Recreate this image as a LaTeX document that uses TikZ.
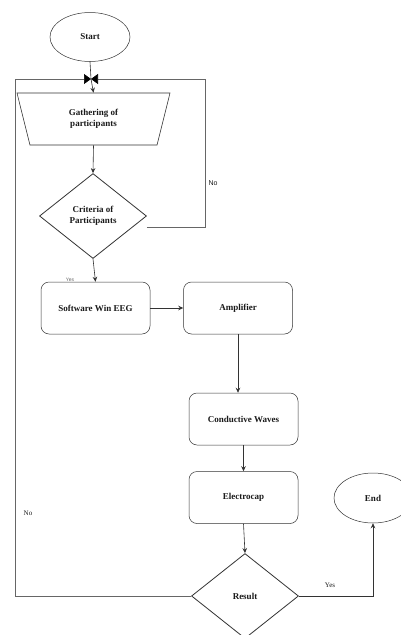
\documentclass[tikz,border=0pt]{standalone}
\usepackage{fontspec}
\setmainfont{Liberation Serif}
\newfontfamily\labelsans{Liberation Sans}
\usepackage{tikz}
\usetikzlibrary{shapes.geometric, arrows.meta, calc}
\definecolor{linegray}{HTML}{333333}
\definecolor{loopgray}{HTML}{666666}
\definecolor{textdark}{HTML}{1A1A1A}

\begin{document}
\begin{tikzpicture}[x=1pt, y=-1pt,
    terminal/.style={ellipse, draw=linegray, line width=0.5pt, minimum width=80pt, minimum height=49pt, inner sep=0pt, font=\small\bfseries, text=textdark},
    gather/.style={trapezium, trapezium left angle=56, trapezium right angle=56, trapezium stretches body, shape border rotate=180, draw=linegray, line width=0.6pt, minimum width=153pt, minimum height=52pt, inner sep=0pt, align=center, font=\small\bfseries, text=textdark},
    decision/.style={diamond, draw=linegray, line width=0.8pt, minimum width=107pt, minimum height=85pt, inner sep=0pt, align=center, font=\small\bfseries, text=textdark},
    process/.style={rectangle, rounded corners=8pt, draw=linegray, line width=0.5pt, minimum width=109pt, minimum height=52pt, align=center, font=\small\bfseries, text=textdark},
    flow/.style={draw=linegray, line width=0.6pt, -{Stealth[length=5pt, width=4.5pt]}},
    loopline/.style={draw=loopgray, line width=0.6pt},
    bigtip/.style={draw=loopgray, line width=0.6pt, -{Triangle[length=7pt, width=10pt, color=black]}},
    sanslabel/.style={font=\labelsans\scriptsize, text=textdark},
]
    \fill[white] (0,0) rectangle (401,635);
    \useasboundingbox (0,0) rectangle (401,635);

    % nodes
    \node[terminal] (start) at (90,37) {Start};
    \coordinate (merge) at (91,79);
    \node[gather] (gather) at (93.5,119) {Gathering of\\participants};
    \node[decision] (crit) at (93,216) {Criteria of\\Participants};
    \node[process] (software) at (95.5,308) {Software Win EEG};
    \node[process] (amp) at (238,308) {Amplifier};
    \node[process] (waves) at (243.5,419) {Conductive Waves};
    \node[process] (cap) at (243.5,497.5) {Electrocap};
    \node[decision] (result) at (245,596) {Result};
    \node[terminal, minimum width=78pt, minimum height=50pt] (end) at (373,498) {End};

    % loop corners
    \coordinate (leftbot) at (15,596);
    \coordinate (lefttop) at (15,79);
    \coordinate (righttop) at (205,79);
    \coordinate (rightbot) at (205,227);
    \coordinate (endcorner) at (373,596);

    % connectors
    \draw[draw=linegray, line width=0.6pt] (start.south) -- (merge);
    \draw[flow] (merge) -- (gather.north);
    \draw[flow] (gather.south) -- (crit.north);
    \draw[flow] (crit.south) -- (software.north);
    \draw[flow] (software.east) -- (amp.west);
    \draw[flow] (amp.south) -- (amp.south |- waves.north);
    \draw[flow] (waves.south) -- (cap.north);
    \draw[flow] (cap.south) -- (result.north);
    \draw[flow] (result.east) -- (endcorner) -- (end.south);

    % loops back to the top
    \draw[loopline] ([yshift=-11pt]crit.east) -- (rightbot) -- (righttop);
    \draw[bigtip] (righttop) -- (merge);
    \draw[loopline] (result.west) -- (leftbot) -- (lefttop);
    \draw[bigtip] (lefttop) -- (merge);

    % labels
    \node[sanslabel] (lblno1) at (213,183) {No};
    \node[sanslabel, font=\labelsans\tiny, text=loopgray] (lblyes1) at (70,280) {Yes};
    \node[font=\scriptsize, text=textdark] (lblno2) at (28,513) {No};
    \node[font=\scriptsize, text=textdark] (lblyes2) at (330,585) {Yes};
\end{tikzpicture}
\end{document}
